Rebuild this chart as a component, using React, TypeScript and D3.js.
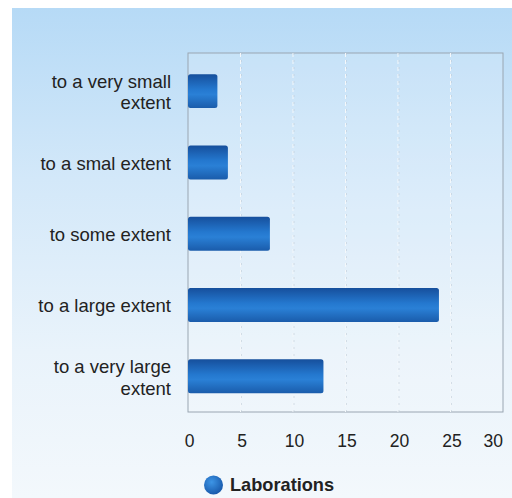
import React from "react";
import * as d3 from "d3";

const categories: string[][] = [
  ["to a very small", "extent"],
  ["to a smal extent"],
  ["to some extent"],
  ["to a large extent"],
  ["to a very large", "extent"],
];
const values: number[] = [2.8, 3.8, 7.8, 23.9, 12.9];
const ticks: number[] = [0, 5, 10, 15, 20, 25, 30];
const seriesName = "Laborations";

const W = 512;
const H = 498;
const plot = { left: 188, right: 503, top: 53, bottom: 412 };
const FONT = "'Liberation Sans', Arial, sans-serif";

export default function App() {
  const x = d3.scaleLinear().domain([0, 30]).range([plot.left, plot.right]);
  const keys = categories.map((c) => c.join(" "));
  const y = d3
    .scaleBand<string>()
    .domain(keys)
    .range([plot.top, plot.bottom])
    .paddingInner(0.524)
    .paddingOuter(0.28)
    .align(0.53);
  const bw = y.bandwidth();

  return (
    <div style={{ position: "fixed", left: 0, top: 0 }}>
      <svg width={W} height={H} style={{ display: "block" }}>
        <defs>
          <linearGradient id="bg" x1="0" y1="0" x2="0" y2="1">
            <stop offset="0" stopColor="#b6daf6" />
            <stop offset="0.35" stopColor="#d3e8f9" />
            <stop offset="0.7" stopColor="#e9f3fb" />
            <stop offset="1" stopColor="#f3f8fc" />
          </linearGradient>
          <linearGradient id="bar" x1="0" y1="0" x2="0" y2="1">
            <stop offset="0" stopColor="#164f9c" />
            <stop offset="0.45" stopColor="#2478cf" />
            <stop offset="0.6" stopColor="#2a80d6" />
            <stop offset="1" stopColor="#1a5cab" />
          </linearGradient>
          <radialGradient id="dot" cx="0.4" cy="0.35" r="0.7">
            <stop offset="0" stopColor="#3d95e6" />
            <stop offset="1" stopColor="#1656a8" />
          </radialGradient>
        </defs>
        <rect x={0} y={0} width={W} height={H} fill="#ffffff" />
        <rect x={12} y={8} width={W - 12} height={H - 8} fill="url(#bg)" />
        <rect
          x={plot.left}
          y={plot.top}
          width={plot.right - plot.left}
          height={plot.bottom - plot.top}
          fill="rgba(255,255,255,0.15)"
          stroke="#9aa6b2"
          strokeWidth={1}
        />
        {ticks.slice(1, -1).map((t) => (
          <line
            key={"g" + t}
            x1={x(t)}
            x2={x(t)}
            y1={plot.top}
            y2={plot.bottom}
            stroke="#f4f8fb"
            strokeWidth={1}
            strokeDasharray="4 3"
          />
        ))}
        {ticks.slice(1, -1).map((t) => (
          <line
            key={"h" + t}
            x1={x(t) + 1}
            x2={x(t) + 1}
            y1={plot.top}
            y2={plot.bottom}
            stroke="#b9c6d1"
            strokeOpacity={0.5}
            strokeWidth={1}
            strokeDasharray="2 5"
          />
        ))}
        {keys.map((k, i) => (
          <rect
            key={"b" + k}
            x={x(0)}
            y={y(k)}
            width={x(values[i]) - x(0)}
            height={bw}
            rx={2.5}
            fill="url(#bar)"
          />
        ))}
        {categories.map((lines, i) => {
          const cy = (y(keys[i]) as number) + bw / 2;
          const lh = 21.5;
          const start = cy - ((lines.length - 1) * lh) / 2 + 7.5;
          return (
            <text
              key={"l" + i}
              textAnchor="end"
              fontFamily={FONT}
              fontSize={18.5}
              fill="#222"
            >
              {lines.map((ln, j) => (
                <tspan key={j} x={171} y={start + j * lh}>
                  {ln}
                </tspan>
              ))}
            </text>
          );
        })}
        {ticks.map((t, i) => {
          const last = i === ticks.length - 1;
          return (
            <text
              key={"t" + t}
              x={last ? x(t) : x(t) + 1.5}
              y={447}
              textAnchor={last ? "end" : "middle"}
              fontFamily={FONT}
              fontSize={17.5}
              fill="#222"
            >
              {t}
            </text>
          );
        })}
        <circle cx={213.5} cy={485} r={9.5} fill="url(#dot)" />
        <text
          x={230}
          y={491}
          fontFamily={FONT}
          fontSize={18.2}
          fontWeight="bold"
          fill="#222"
        >
          {seriesName}
        </text>
      </svg>
    </div>
  );
}
